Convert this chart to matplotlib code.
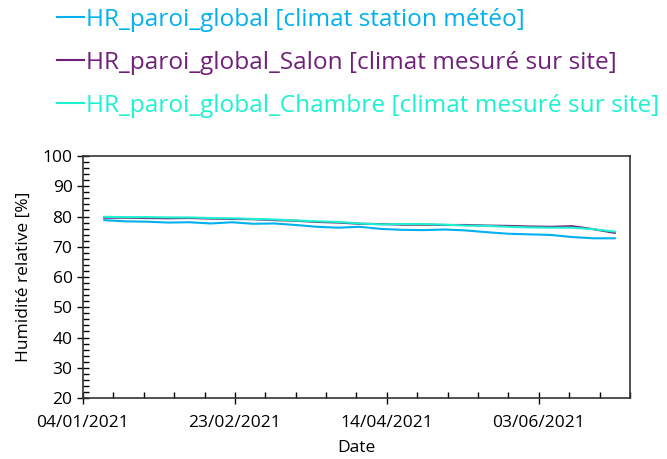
import matplotlib.pyplot as plt
import matplotlib.dates as mdates
import numpy as np
import pandas as pd

plt.rcParams['font.family'] = ['Open Sans', 'DejaVu Sans']

# weekly readings from 11/01/2021
dates = pd.date_range('2021-01-11', periods=25, freq='7D')

hr_meteo = [78.8, 78.4, 78.3, 78.0, 78.1, 77.7, 78.1, 77.6, 77.7, 77.2, 76.6, 76.3, 76.6,
            75.9, 75.6, 75.5, 75.7, 75.4, 74.8, 74.3, 74.1, 73.9, 73.2, 72.8, 72.8]
hr_salon = [79.6, 79.6, 79.5, 79.4, 79.5, 79.3, 79.2, 79.1, 78.8, 78.6, 78.2, 78.0, 77.6,
            77.5, 77.3, 77.3, 77.2, 77.2, 77.0, 76.9, 76.7, 76.6, 76.8, 75.8, 74.6]
hr_chambre = [79.9, 79.8, 79.8, 79.7, 79.7, 79.5, 79.4, 79.2, 79.0, 78.7, 78.4, 78.2, 77.7,
              77.4, 77.5, 77.5, 77.3, 77.0, 76.9, 76.6, 76.4, 76.3, 76.3, 75.8, 75.0]

labels = ['HR_paroi_global [climat station météo]',
          'HR_paroi_global_Salon [climat mesuré sur site]',
          'HR_paroi_global_Chambre [climat mesuré sur site]']
colors = ['#00B0F0', '#70207A', '#1DF2D0']

fig = plt.figure(figsize=(6.67, 4.59), dpi=100)
ax = fig.add_axes([0.1244, 0.1329, 0.8201, 0.5272])

for vals, lab, c in zip([hr_meteo, hr_salon, hr_chambre], labels, colors):
    ax.plot(dates, vals, color=c, linewidth=1.5, label=lab)

ax.set_xlim(pd.Timestamp('2021-01-04'), pd.Timestamp('2021-07-03'))
ax.set_ylim(20, 100)

major = pd.date_range('2021-01-04', '2021-07-03', freq='50D')
minor = pd.date_range('2021-01-04', '2021-07-03', freq='10D')
ax.set_xticks(major)
ax.set_xticks(minor, minor=True)
ax.xaxis.set_major_formatter(mdates.DateFormatter('%d/%m/%Y'))
ax.set_yticks(np.arange(20, 101, 10))
ax.set_yticks(np.arange(20, 101, 2), minor=True)

ax.tick_params(which='major', direction='inout', length=8, width=1, labelsize=12.5)
ax.tick_params(which='minor', direction='in', length=4, width=1)
ax.tick_params(axis='x', pad=8)
for s in ax.spines.values():
    s.set_color('#333333')
    s.set_linewidth(1.2)

ax.set_xlabel('Date', fontsize=12.5, labelpad=7)
ax.set_ylabel('Humidité relative [%]', fontsize=12.5, labelpad=8)

leg = fig.legend(loc='upper left', bbox_to_anchor=(0.085, 0.983), frameon=False,
                 fontsize=17.6, handlelength=1.1, handletextpad=0.1, labelspacing=0.78,
                 borderpad=0, borderaxespad=0)
for t, c in zip(leg.get_texts(), colors):
    t.set_color(c)

plt.savefig('out.png')
